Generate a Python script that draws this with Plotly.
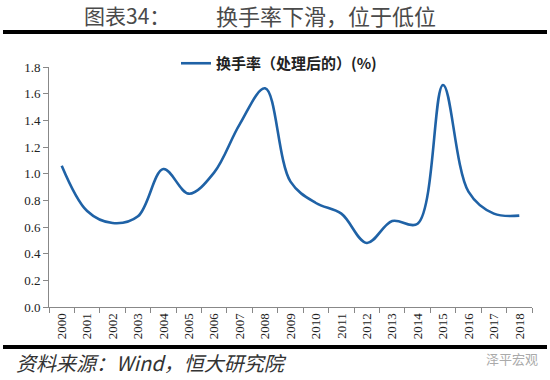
import plotly.graph_objects as go

years = [str(y) for y in range(2000, 2019)]
turnover = [1.06, 0.72, 0.63, 0.68, 1.035, 0.85, 1.01, 1.37, 1.64, 0.94,
            0.78, 0.70, 0.48, 0.645, 0.625, 1.665, 0.865, 0.70, 0.685]
y_ticks = [0.0, 0.2, 0.4, 0.6, 0.8, 1.0, 1.2, 1.4, 1.6, 1.8]

W, H = 550, 380
L, R, T, B = 49, 18, 67, 73
pw, ph = W - L - R, H - T - B

def px(x):
    return (x - L) / pw

def py(y):
    return (H - B - y) / ph

serif = "Liberation Serif, Times New Roman, serif"
cjk = "Noto Sans CJK SC"

fig = go.Figure()
fig.add_trace(go.Scatter(
    x=years, y=turnover, mode="lines",
    line=dict(color="#1f62a6", width=2.6, shape="spline", smoothing=1.0),
    name="<b>换手率（处理后的）(%)</b>",
))

fig.update_layout(
    width=W, height=H,
    margin=dict(l=L, r=R, t=T, b=B, autoexpand=False),
    paper_bgcolor="white", plot_bgcolor="white",
    showlegend=True,
    legend=dict(orientation="h", x=px(176), y=py(47), xanchor="left", yanchor="top",
                font=dict(family=cjk, size=15, color="#222"),
                bgcolor="rgba(0,0,0,0)", itemwidth=30),
    xaxis=dict(type="category", range=[-0.5, 18.5], tickangle=-90, tickson="boundaries",
               ticks="outside", ticklen=5, tickcolor="#888", automargin=False,
               showline=True, linecolor="#888", linewidth=1,
               showgrid=False, tickfont=dict(family=serif, size=13, color="#222")),
    yaxis=dict(range=[0, 1.8], tickvals=y_ticks, tickformat=".1f",
               ticks="outside", ticklen=5, tickcolor="#888", automargin=False,
               showline=True, linecolor="#888", linewidth=1,
               showgrid=False, zeroline=False,
               tickfont=dict(family=serif, size=13, color="#222")),
    shapes=[
        dict(type="line", xref="paper", yref="paper", x0=px(3), x1=px(547),
             y0=py(32), y1=py(32), line=dict(color="black", width=4)),
        dict(type="line", xref="paper", yref="paper", x0=px(3), x1=px(547),
             y0=py(347), y1=py(347), line=dict(color="black", width=4)),
    ],
    annotations=[
        dict(text="图表34：", xref="paper", yref="paper", x=px(82), y=py(15),
             xanchor="left", yanchor="middle", showarrow=False,
             font=dict(family=cjk, size=21, color="#4a4a4a")),
        dict(text="换手率下滑，位于低位", xref="paper", yref="paper", x=px(214), y=py(15),
             xanchor="left", yanchor="middle", showarrow=False,
             font=dict(family=cjk, size=22, color="#4a4a4a")),
        dict(text="<i>资料来源：Wind，恒大研究院</i>", xref="paper", yref="paper",
             x=px(14), y=py(362), xanchor="left", yanchor="middle", showarrow=False,
             font=dict(family=cjk, size=20, color="#333")),
        dict(text="泽平宏观", xref="paper", yref="paper", x=px(540), y=py(358),
             xanchor="right", yanchor="middle", showarrow=False,
             font=dict(family=cjk, size=13, color="#aaa")),
    ],
)

fig.write_html("out.html", config={"displayModeBar": False},
               post_script="document.body.style.margin='0';")
